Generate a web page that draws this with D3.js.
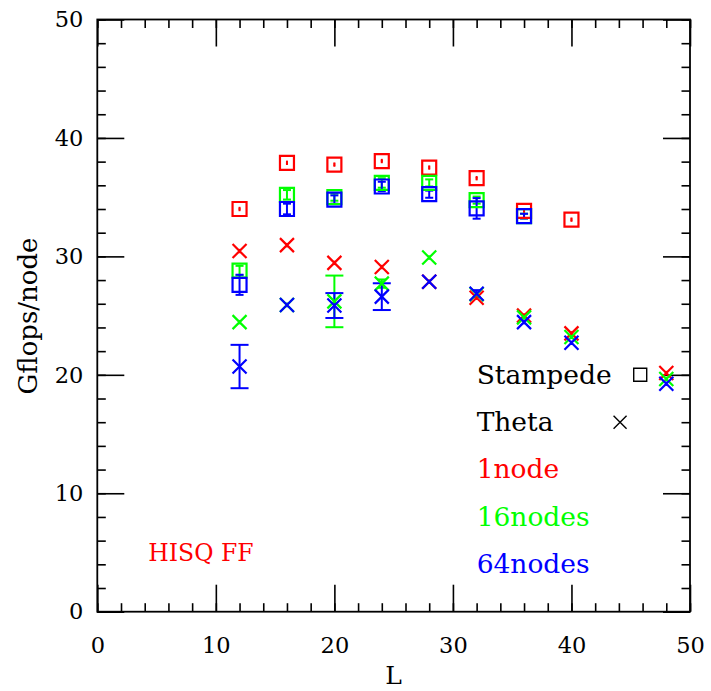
<!DOCTYPE html>
<html>
<head>
<meta charset="utf-8">
<script src="https://cdn.jsdelivr.net/npm/d3@7"></script>
<style>
    body { margin: 0; background: #fff; }
    text { font-family: "DejaVu Serif", serif; }
</style>
</head>
<body>
<div id="chart"></div>
<script>
// lattice sizes
var stampedeL = [12, 16, 20, 24, 28, 32, 36, 40];
var thetaL = [12, 16, 20, 24, 28, 32, 36, 40, 48];

// Stampede (squares)
var stampede1 = [34.0, 37.9, 37.75, 38.05, 37.5, 36.6, 33.85, 33.1];
var stampede1Err = [0.1, 0.1, 0.1, 0.1, 0.1, 0.1, 0.1, 0.1];
var stampede16 = [28.8, 35.2, 35.0, 36.2, 36.2, 34.75, 33.4];
var stampede16Err = [0.4, 0.4, 0.3, 0.4, 0.3, 0.3, 0.2];
var stampede64 = [27.6, 34.0, 34.8, 35.9, 35.25, 34.05, 33.4];
var stampede64Err = [0.85, 0.45, 0.35, 0.4, 0.3, 0.87, 0.2];

// Theta (crosses)
var theta1 = [30.45, 30.95, 29.45, 29.1, 27.85, 26.5, 25.0, 23.5, 20.15];
var theta1Err = [0.1, 0.1, 0.1, 0.1, 0.1, 0.1, 0.1, 0.1, 0.1];
var theta16 = [24.45, 25.9, 26.2, 27.7, 29.9, 26.8, 24.85, 23.2, 19.65];
var theta16Err = [0.1, 0.1, 2.18, 0.35, 0.1, 0.1, 0.1, 0.1, 0.1];
var theta64 = [20.7, 25.9, 25.85, 26.6, 27.85, 26.85, 24.45, 22.7, 19.25];
var theta64Err = [1.83, 0.1, 1.05, 1.13, 0.1, 0.3, 0.1, 0.1, 0.1];

var xMajor = [0, 10, 20, 30, 40, 50];
var yMajor = [0, 10, 20, 30, 40, 50];

var legendLabels = ["Stampede", "Theta", "1node", "16nodes", "64nodes"];
var legendY = [20, 16, 12, 8, 4];

var width = 711,
    height = 691,
    plotLeft = 97.3,
    plotRight = 690,
    plotTop = 19.5,
    plotBottom = 611.7,
    majorLen = 27,
    minorLen = 8.5,
    boxSize = 14,
    crossSize = 14;

var x = d3.scaleLinear().domain([0, 50]).range([plotLeft, plotRight]);
var y = d3.scaleLinear().domain([0, 50]).range([plotBottom, plotTop]);
var minorTicks = d3.range(0, 51, 2);

var svg = d3.select('#chart')
    .append('svg')
    .attr('width', width)
    .attr('height', height);

function series(L, v, e, color, kind, cap) {
    return L.slice(0, v.length).map(function (l, i) {
        // tiny bars hide inside the marker, only a short stub shows
        var c = e[i] < 0.2 ? 2 : (kind === 'cross' && e[i] < 0.5 ? 8 : cap);
        return {L: l, v: v[i], e: e[i], color: color, kind: kind, cap: c};
    });
}

var points = [].concat(
    series(stampedeL, stampede1, stampede1Err, '#ff0000', 'box', 8),
    series(stampedeL, stampede16, stampede16Err, '#00ff00', 'box', 8),
    series(stampedeL, stampede64, stampede64Err, '#0000ff', 'box', 8),
    series(thetaL, theta1, theta1Err, '#ff0000', 'cross', 18),
    series(thetaL, theta16, theta16Err, '#00ff00', 'cross', 18),
    series(thetaL, theta64, theta64Err, '#0000ff', 'cross', 18)
);

// axes, ticks inward on all four sides
function addAxis(axis, tx, ty, size, values, labels, pad) {
    var g = svg.append('g')
        .attr('transform', 'translate(' + tx + ',' + ty + ')')
        .call(axis.tickValues(values).tickSizeInner(-size).tickSizeOuter(0)
            .tickPadding(pad || 3)
            .tickFormat(labels ? d3.format('d') : function () { return ''; }));
    g.select('.domain').remove();
    g.selectAll('line').attr('stroke', '#000').attr('stroke-width', 1.6);
    g.selectAll('text').attr('font-family', '"DejaVu Serif", serif').attr('font-size', 22.5).attr('fill', '#000');
    return g;
}

addAxis(d3.axisBottom(x), 0, plotBottom, majorLen, xMajor, true, 25);
addAxis(d3.axisBottom(x), 0, plotBottom, minorLen, minorTicks, false);
addAxis(d3.axisTop(x), 0, plotTop, majorLen, xMajor, false);
addAxis(d3.axisTop(x), 0, plotTop, minorLen, minorTicks, false);
addAxis(d3.axisLeft(y), plotLeft, 0, majorLen, yMajor, true, 14);
addAxis(d3.axisLeft(y), plotLeft, 0, minorLen, minorTicks, false);
addAxis(d3.axisRight(y), plotRight, 0, majorLen, yMajor, false);
addAxis(d3.axisRight(y), plotRight, 0, minorLen, minorTicks, false);

svg.append('rect')
    .attr('x', plotLeft)
    .attr('y', plotTop)
    .attr('width', plotRight - plotLeft)
    .attr('height', plotBottom - plotTop)
    .attr('fill', 'none')
    .attr('stroke', '#000')
    .attr('stroke-width', 1.8);

// error bars
var bars = svg.append('g')
    .selectAll('g')
    .data(points)
    .enter()
    .append('g')
    .attr('stroke', function (d) { return d.color; })
    .attr('stroke-width', 2);

bars.append('line')
    .attr('x1', function (d) { return x(d.L); })
    .attr('x2', function (d) { return x(d.L); })
    .attr('y1', function (d) { return y(d.v - d.e); })
    .attr('y2', function (d) { return y(d.v + d.e); });

bars.append('line')
    .attr('x1', function (d) { return x(d.L) - d.cap / 2; })
    .attr('x2', function (d) { return x(d.L) + d.cap / 2; })
    .attr('y1', function (d) { return y(d.v + d.e); })
    .attr('y2', function (d) { return y(d.v + d.e); });

bars.append('line')
    .attr('x1', function (d) { return x(d.L) - d.cap / 2; })
    .attr('x2', function (d) { return x(d.L) + d.cap / 2; })
    .attr('y1', function (d) { return y(d.v - d.e); })
    .attr('y2', function (d) { return y(d.v - d.e); });

// markers
function boxPath(cx, cy, s) {
    var h = s / 2;
    return 'M' + (cx - h) + ',' + (cy - h) + 'h' + s + 'v' + s + 'h' + (-s) + 'Z';
}

function crossPath(cx, cy, s) {
    var h = s / 2;
    return 'M' + (cx - h) + ',' + (cy - h) + 'L' + (cx + h) + ',' + (cy + h) +
        'M' + (cx - h) + ',' + (cy + h) + 'L' + (cx + h) + ',' + (cy - h);
}

svg.append('g')
    .selectAll('path')
    .data(points)
    .enter()
    .append('path')
    .attr('fill', 'none')
    .attr('stroke', function (d) { return d.color; })
    .attr('stroke-width', 2.2)
    .attr('d', function (d) {
        return d.kind === 'box' ? boxPath(x(d.L), y(d.v), boxSize) : crossPath(x(d.L), y(d.v), crossSize);
    });

// legend
var legendColors = ['#000', '#000', '#ff0000', '#00ff00', '#0000ff'];

svg.append('g')
    .selectAll('text')
    .data(legendLabels)
    .enter()
    .append('text')
    .attr('x', x(32))
    .attr('y', function (d, i) { return y(legendY[i]); })
    .attr('dy', '0.33em')
    .attr('font-size', 26.5)
    .attr('fill', function (d, i) { return legendColors[i]; })
    .text(function (d) { return d; });

svg.append('path')
    .attr('fill', 'none')
    .attr('stroke', '#000')
    .attr('stroke-width', 1.4)
    .attr('d', boxPath(x(45.8), y(legendY[0]), 13));

svg.append('path')
    .attr('fill', 'none')
    .attr('stroke', '#000')
    .attr('stroke-width', 1.4)
    .attr('d', crossPath(x(44.1), y(legendY[1]), 13));

svg.append('text')
    .attr('x', x(4.3))
    .attr('y', y(5))
    .attr('dy', '0.35em')
    .attr('font-size', 23.5)
    .attr('fill', '#ff0000')
    .text('HISQ FF');

// axis titles
svg.append('text')
    .attr('x', (plotLeft + plotRight) / 2)
    .attr('y', 684)
    .attr('text-anchor', 'middle')
    .attr('font-size', 25)
    .text('L');

svg.append('text')
    .attr('transform', 'translate(37,316) rotate(-90)')
    .attr('text-anchor', 'middle')
    .attr('font-size', 26)
    .text('Gflops/node');
</script>
</body>
</html>
